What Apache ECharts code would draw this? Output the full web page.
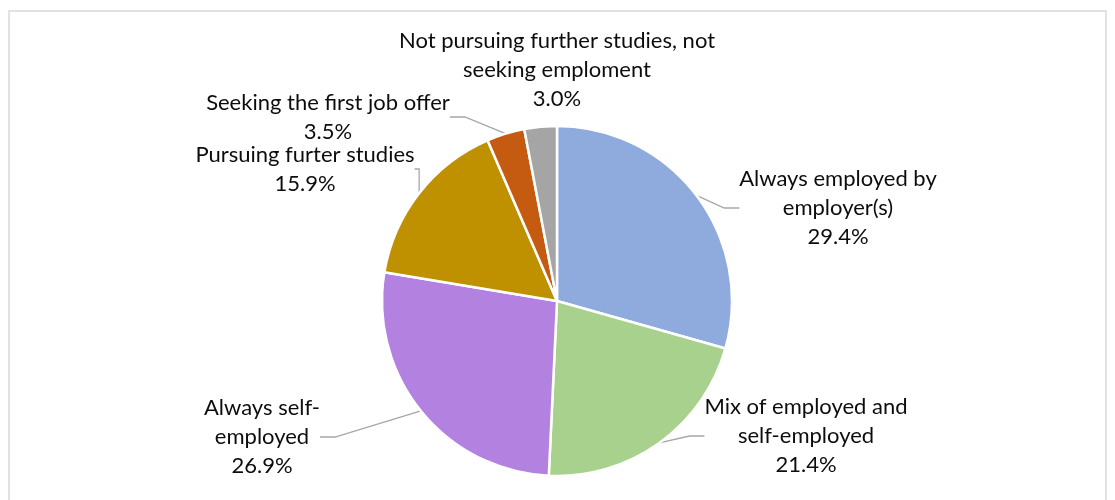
<!DOCTYPE html>
<html><head><meta charset="utf-8">
<script src="https://cdn.jsdelivr.net/npm/echarts@6/dist/echarts.min.js"></script>
<style>html,body{margin:0;padding:0;background:#fff}#c{width:1115px;height:500px}</style>
</head><body><div id="c"></div>
<script>
const categories = [
  "Always employed by\nemployer(s)",
  "Mix of employed and\nself-employed",
  "Always self-\nemployed",
  "Pursuing furter studies",
  "Seeking the first job offer",
  "Not pursuing further studies, not\nseeking emploment"
];
const values = [29.4, 21.4, 26.9, 15.9, 3.5, 3.0];
const colors = ["#8FAADC", "#A9D18E", "#B381DF", "#BF9000", "#C55A11", "#A5A5A5"];

const labelPos = [
  {x: 838, y: 208}, {x: 806, y: 436}, {x: 262, y: 437},
  {x: 305, y: 169}, {x: 328, y: 117}, {x: 557, y: 70}
];

const chart = echarts.init(document.getElementById('c'));
chart.setOption({
  animation: false,
  graphic: [{type: 'rect', shape: {x: 9, y: 11, width: 1097, height: 500},
    style: {fill: 'none', stroke: '#D9D9D9', lineWidth: 1.5}, silent: true}],
  series: [{
    type: 'pie',
    center: [557, 301],
    radius: 175,
    startAngle: 90,
    clockwise: true,
    data: categories.map((n, i) => ({
      name: n, value: values[i], itemStyle: {color: colors[i]},
      labelLine: {show: i !== 5}
    })),
    itemStyle: {borderColor: '#fff', borderWidth: 2.5},
    label: {
      show: true,
      formatter: p => p.name + '\n' + p.value.toFixed(1) + '%',
      fontFamily: 'Lato', fontSize: 22, lineHeight: 29, color: '#0d0d0d', align: 'center'
    },
    labelLine: {show: true, lineStyle: {color: '#A6A6A6', width: 1.3}, length: 15, length2: 15},
    labelLayout: p => ({x: labelPos[p.dataIndex].x, y: labelPos[p.dataIndex].y, align: 'center', verticalAlign: 'middle'})
  }]
});
</script></body></html>
